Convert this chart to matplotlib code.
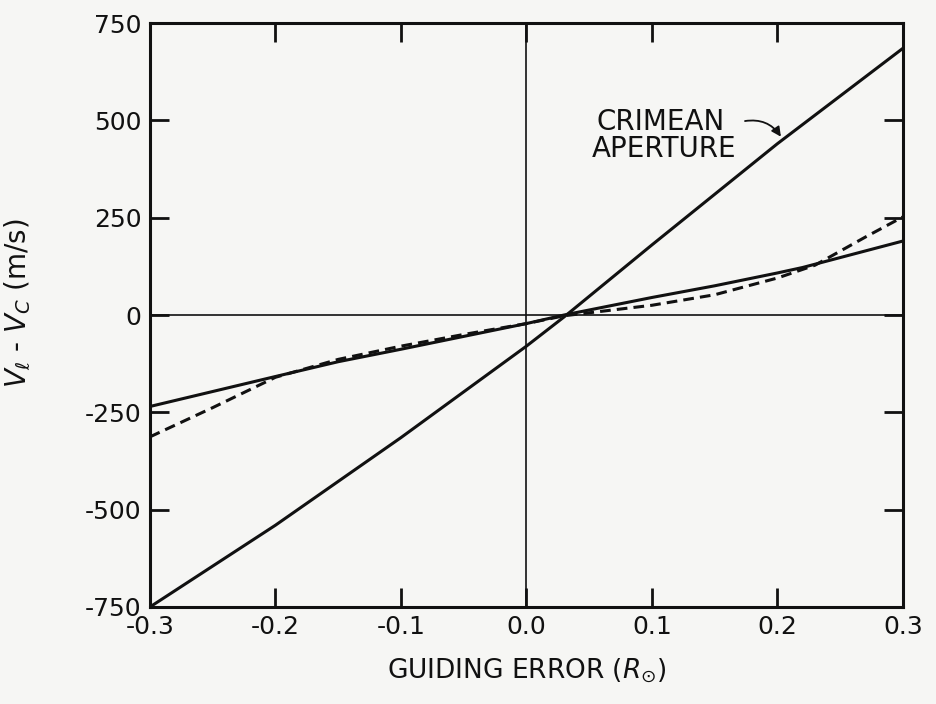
import matplotlib
matplotlib.use('Agg')
import matplotlib.pyplot as plt
import numpy as np

# guiding error (solar radii)
crimean_x = [-0.3, -0.2, -0.1, 0.0, 0.03, 0.1, 0.2, 0.3]
crimean_y = [-750, -540, -315, -80, -5, 180, 440, 685]

solid_x = [-0.3, -0.2, -0.15, -0.1, 0.0, 0.03, 0.1, 0.15, 0.2, 0.22, 0.3]
solid_y = [-235, -158, -120, -88, -22, 0, 45, 75, 108, 122, 190]

dashed_x = [-0.3, -0.25, -0.2, -0.15, -0.1, -0.05, 0.0, 0.03, 0.1, 0.15, 0.2, 0.23, 0.27, 0.3]
dashed_y = [-313, -238, -160, -114, -80, -50, -22, -2, 25, 52, 95, 128, 200, 252]

x_ticks = [-0.3, -0.2, -0.1, 0.0, 0.1, 0.2, 0.3]
y_ticks = [-750, -500, -250, 0, 250, 500, 750]

ink = '#111111'
paper = '#f6f6f4'

plt.rcParams['axes.unicode_minus'] = False
plt.rcParams['font.family'] = ['DejaVu Sans']

fig = plt.figure(figsize=(9.37, 7.04), dpi=100, facecolor=paper)
ax = fig.add_axes([0.160, 0.1378, 0.8036, 0.8295])
ax.set_facecolor(paper)

ax.axhline(0, color=ink, lw=1.2, zorder=1)
ax.axvline(0, color=ink, lw=1.2, zorder=1)

ax.plot(crimean_x, crimean_y, color=ink, lw=2.2, zorder=3)
ax.plot(solid_x, solid_y, color=ink, lw=2.2, zorder=3)
ax.plot(dashed_x, dashed_y, color=ink, lw=2.2, dashes=(3.5, 2), zorder=3)

ax.set_xlim(-0.3, 0.3)
ax.set_ylim(-750, 750)
ax.set_xticks(x_ticks)
ax.set_yticks(y_ticks)
ax.set_xticklabels(['%.1f' % v for v in x_ticks])
ax.set_yticklabels([str(v) for v in y_ticks])

ax.tick_params(direction='in', length=14, width=2, top=True, right=True,
               labelsize=18, colors=ink, pad=6)
for s in ax.spines.values():
    s.set_linewidth(2.2)
    s.set_color(ink)

ax.set_xlabel(r'GUIDING ERROR ($R_{\odot}$)', fontsize=19, color=ink)
ax.xaxis.set_label_coords(0.50, -0.085)
ax.set_ylabel(r'$V_{\ell}$ - $V_{C}$ (m/s)', fontsize=20, color=ink)
ax.yaxis.set_label_coords(-0.155, 0.52)

ax.text(0.056, 496, 'CRIMEAN', fontsize=20, color=ink, va='center', ha='left')
ax.text(0.052, 427, 'APERTURE', fontsize=20, color=ink, va='center', ha='left')
ax.annotate('', xy=(0.204, 452), xytext=(0.172, 497),
            arrowprops=dict(arrowstyle='-|>', color=ink, lw=1.3,
                            connectionstyle='arc3,rad=-0.35', mutation_scale=14))

fig.savefig('out.png', dpi=100, facecolor=paper)
